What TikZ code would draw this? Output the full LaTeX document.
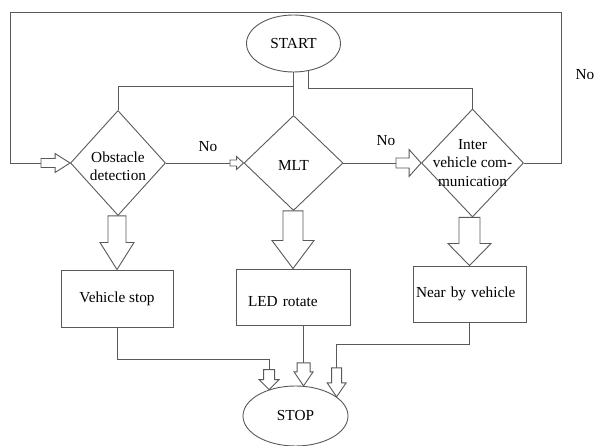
\documentclass[tikz,border=0pt]{standalone}
\usepackage{fontspec}
\setmainfont{Liberation Serif}
\usepackage{tikz}
\usetikzlibrary{calc, shapes.geometric, positioning}

\tikzset{
  terminal/.style={ellipse, draw, inner sep=0pt},
  decision/.style={diamond, draw, inner sep=0pt, align=center},
  process/.style={rectangle, draw, inner xsep=0pt, minimum width=113pt, minimum height=56pt}
}

% mũi tên rỗng: #1 điểm đầu, #2 đỉnh mũi, #3 nửa thân, #4 nửa đầu, #5 dài đầu
\newcommand{\fatdown}[5]{%
  \draw[fill=white] let \p1=(#1), \p2=(#2) in
    (\x2-#3pt,\y1) -- (\x2-#3pt,\y2+#5pt) -- (\x2-#4pt,\y2+#5pt) -- (\x2,\y2)
    -- (\x2+#4pt,\y2+#5pt) -- (\x2+#3pt,\y2+#5pt) -- (\x2+#3pt,\y1) -- cycle;}
\newcommand{\fatright}[5]{%
  \draw[fill=white] let \p1=(#1), \p2=(#2) in
    (\x1,\y2-#3pt) -- (\x2-#5pt,\y2-#3pt) -- (\x2-#5pt,\y2-#4pt) -- (\x2,\y2)
    -- (\x2-#5pt,\y2+#4pt) -- (\x2-#5pt,\y2+#3pt) -- (\x1,\y2+#3pt) -- cycle;}

\begin{document}
\begin{tikzpicture}[x=1pt, y=1pt, line width=0.9pt, color=black!65,
    every node/.style={text=black, font=\fontsize{15.3pt}{18.4pt}\selectfont}]
  \useasboundingbox (0,0) rectangle (597,446);

  % 1. Các khối
  \node[terminal, minimum width=94pt, minimum height=57pt] (start) at (293.5,402.5) {START};
  \node[decision, minimum width=95pt, minimum height=105pt, text height=36pt, text depth=0pt]
    (obst) at (118,283) {Obstacle\\detection};
  \node[decision, minimum width=99pt, minimum height=95pt, text height=16pt, text depth=0pt]
    (mlt) at (293.5,283) {MLT};
  \node[decision, minimum width=102pt, minimum height=108pt, inner sep=-7pt] (inter) at (472.5,283)
    {Inter\\vehicle com-\\munication};
  \node[process, minimum width=112pt, minimum height=57pt] (vstop) at (117,147.5) {Vehicle stop};
  \node[process, minimum width=114pt, text width=90pt, align=left, text height=20pt, text depth=0pt]
    (led) at (293,149) {LED rotate};
  \node[process, text width=107pt, align=left] (near) at (469.5,152) {Near by vehicle};
  \node[terminal, minimum width=105pt, minimum height=60pt] (stop) at (295.5,30) {STOP};

  % 2. Nhãn
  \node (no1) at (208,299) {No};
  \node (no2) at (386,305) {No};
  \node (no3) at (585,371) {No};

  % 3. Từ START xuống
  \coordinate (j1) at (293.5,360);
  \draw (start.south) -- (mlt.north);
  \draw (j1) -| (obst.north);
  \draw (start.-61) -- ++(0,-18) -| (inter.north);

  % 4. Vòng lặp phía trên
  \coordinate (loopin) at (41,283);
  \draw (inter.east) -- ++(37,0) -- ++(0,151) -- ++(-550.5,0) |- (loopin);
  \fatright{loopin}{obst.west}{4.5}{9.5}{15}

  % 5. Nhánh No
  \coordinate (a1) at (230,283);
  \coordinate (a2) at (396,283);
  \draw (obst.east) -- (a1);
  \fatright{a1}{mlt.west}{3}{6.5}{7}
  \draw (mlt.east) -- (a2);
  \fatright{a2}{inter.west}{5}{13.5}{12}

  % 6. Mũi tên xuống các hộp
  \fatdown{obst.south}{vstop.north}{9}{17}{27}
  \fatdown{mlt.south}{led.north}{10}{21}{28}
  \fatdown{inter.south}{near.north}{10.5}{21.5}{22}

  % 7. Về STOP
  \coordinate (s1) at ($(stop.135)+(0,20)$);
  \coordinate (s2) at ($(stop.75)+(0,23)$);
  \coordinate (s3) at ($(stop.25)+(0,29)$);
  \draw (vstop.south) -- ++(0,-32) -| (s1);
  \draw (led.south -| s2) -- (s2);
  \draw (near.south) -- ++(0,-22) -| (s3);
  \fatdown{s1}{stop.135}{5.5}{10}{10}
  \fatdown{s2}{stop.75}{6.5}{9.5}{14}
  \fatdown{s3}{stop.25}{5}{9.5}{14}
\end{tikzpicture}
\end{document}
